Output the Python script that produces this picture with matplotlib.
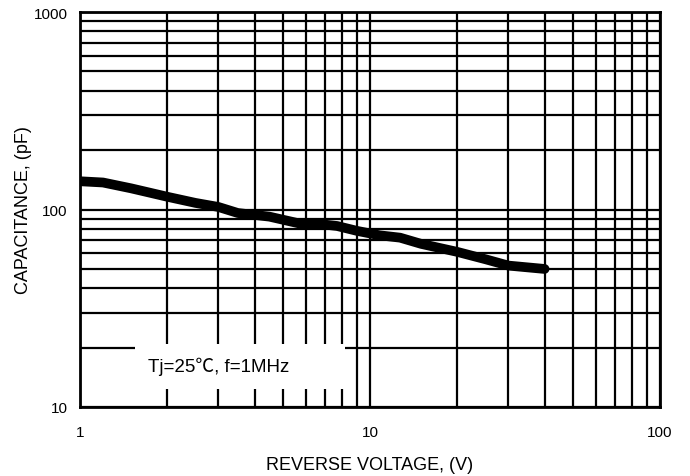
import matplotlib.pyplot as plt
import matplotlib
from matplotlib.patches import Rectangle
from matplotlib.ticker import LogLocator, NullFormatter

matplotlib.rcParams['font.family'] = ['Liberation Sans', 'Noto Sans CJK SC', 'DejaVu Sans']

# reverse voltage (V) vs capacitance (pF)
voltage = [1, 1.2, 1.5, 2, 2.5, 3, 3.5, 4.5, 5.7, 6.9, 7.7, 9, 10.8, 12.7, 15, 20, 25, 30, 40]
capacitance = [139, 137, 128, 116, 108, 103, 96, 92, 85, 84, 82.5, 78, 74, 72, 67, 61, 56, 52, 50]

x_ticks = [1, 10, 100]
x_tick_labels = ['1', '10', '100']
y_ticks = [10, 100, 1000]
y_tick_labels = ['10', '100', '1000']
note = 'Tj=25\u2103, f=1MHz'

fig = plt.figure(figsize=(6.9, 4.77), dpi=100)
ax = fig.add_axes([0.116, 0.1447, 0.8405, 0.828])

ax.set_xscale('log')
ax.set_yscale('log')
ax.set_xlim(1, 100)
ax.set_ylim(10, 1000)

ax.set_xticks(x_ticks)
ax.set_xticklabels(x_tick_labels)
ax.set_yticks(y_ticks)
ax.set_yticklabels(y_tick_labels)
for a in (ax.xaxis, ax.yaxis):
    a.set_minor_locator(LogLocator(base=10, subs=range(2, 10)))
    a.set_minor_formatter(NullFormatter())

ax.grid(which='both', color='black', linewidth=1.6, zorder=1)
ax.plot(voltage, capacitance, color='black', linewidth=7, solid_capstyle='round', zorder=3)

# white box holding the test condition
ax.add_patch(Rectangle((0.095, 0.046), 0.362, 0.114, transform=ax.transAxes,
                       facecolor='white', edgecolor='none', zorder=4))
ax.text(0.117, 0.103, note, transform=ax.transAxes, fontsize=13.5, va='center', ha='left', zorder=5)

ax.tick_params(which='both', length=0, labelsize=11)
ax.tick_params(axis='x', pad=13)
ax.tick_params(axis='y', pad=9)
for s in ax.spines.values():
    s.set_linewidth(2)

ax.set_xlabel('REVERSE VOLTAGE, (V)', fontsize=13, labelpad=12)
ax.set_ylabel('CAPACITANCE, (pF)', fontsize=13, labelpad=1)

fig.savefig('out.png', dpi=100)
